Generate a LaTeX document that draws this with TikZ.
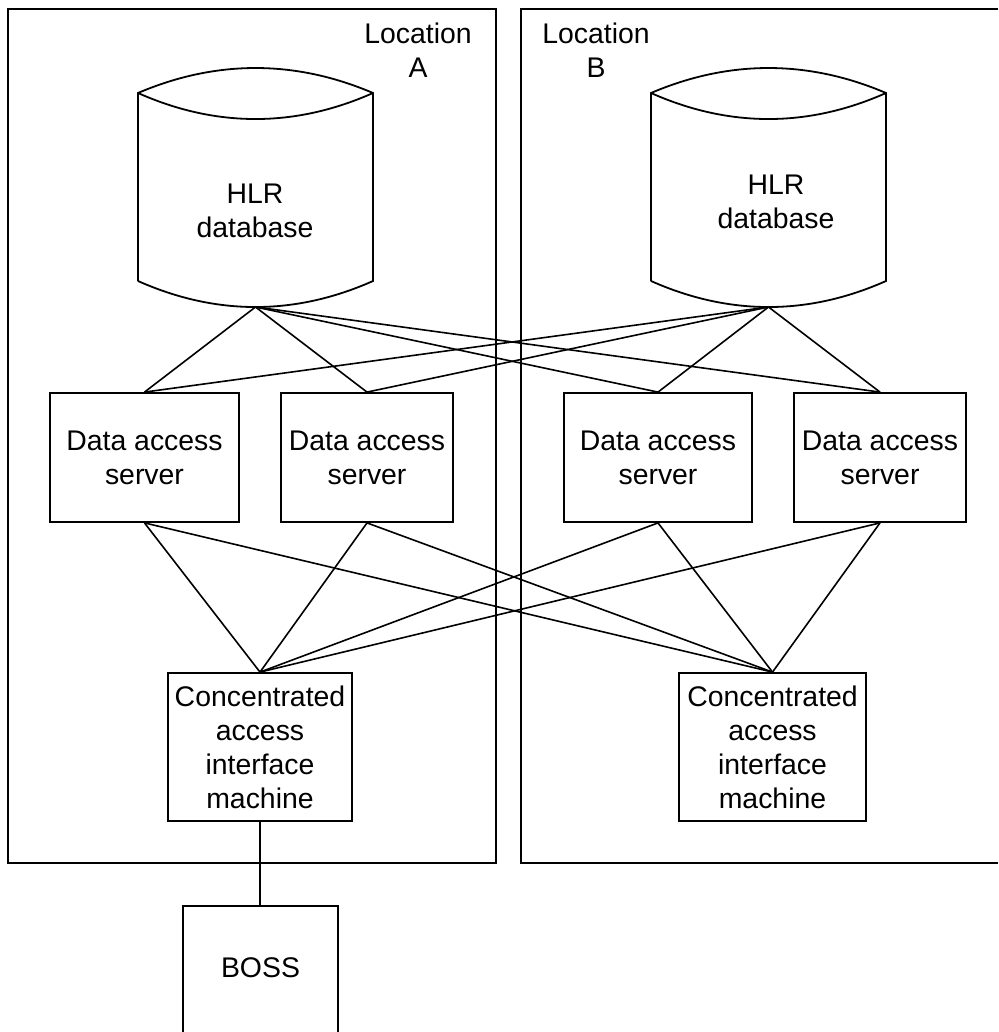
\documentclass[tikz,border=0pt]{standalone}
\usepackage{fontspec}
\setmainfont{Liberation Sans}
\begin{document}
\begin{tikzpicture}[x=1pt,y=-1pt,
  txt/.style={inner sep=0pt, align=center, font=\fontsize{28.4}{34}\selectfont},
  box/.style={txt, draw, line width=1.8pt},
  frame/.style={draw, line width=1.8pt},
  link/.style={draw, line width=1.6pt}]
\useasboundingbox (0,0) rectangle (998,1032);

% location frames
\node[frame, minimum width=488pt, minimum height=854pt, inner sep=0pt] (locA) at (252,436) {};
\draw[frame] (998,9) -- (521,9) -- (521,863) -- (998,863);
\node[txt] (locAlbl) at (418,50) {Location\\A};
\node[txt] (locBlbl) at (596,50) {Location\\B};

% databases
\draw[frame] (138,281) -- (138,93) .. controls (216,59.7) and (295,59.7) .. (373,93)
  -- (373,281) .. controls (295,315.7) and (216,315.7) .. (138,281);
\draw[frame] (138,93) .. controls (216,127.7) and (295,127.7) .. (373,93);
\draw[frame] (651,281) -- (651,93) .. controls (729,59.7) and (808,59.7) .. (886,93)
  -- (886,281) .. controls (808,315.7) and (729,315.7) .. (651,281);
\draw[frame] (651,93) .. controls (729,127.7) and (808,127.7) .. (886,93);
\node[txt] (dbA) at (255,211) {HLR\\database};
\node[txt] (dbB) at (776,201.5) {HLR\\database};
\coordinate (dbAbot) at (255.5,307);
\coordinate (dbBbot) at (768.5,307);

% data access servers
\node[box, minimum width=189pt, minimum height=129pt] (dasA1) at (144.5,457.5) {Data access\\server};
\node[box, minimum width=172pt, minimum height=129pt] (dasA2) at (367,457.5) {Data access\\server};
\node[box, minimum width=188pt, minimum height=129pt] (dasB1) at (658,457.5) {Data access\\server};
\node[box, minimum width=172pt, minimum height=129pt] (dasB2) at (880,457.5) {Data access\\server};

% concentrated access interface machines
\node[box, minimum width=184pt, minimum height=148pt] (caimA) at (260,747) {Concentrated\\access\\interface\\machine};
\node[box, minimum width=187pt, minimum height=148pt] (caimB) at (772.5,747) {Concentrated\\access\\interface\\machine};

% BOSS
\draw[frame] (183,1032) -- (183,906) -- (338,906) -- (338,1032);
\node[txt] (boss) at (260.5,968) {BOSS};
\coordinate (bossTop) at (260,906);

% connectors
\foreach \d in {dasA1,dasA2,dasB1,dasB2} {
  \draw[link] (dbAbot) -- (\d.north);
  \draw[link] (dbBbot) -- (\d.north);
  \draw[link] (\d.south) -- (caimA.north);
  \draw[link] (\d.south) -- (caimB.north);
}
\draw[link, line width=1.8pt] (caimA.south) -- (bossTop);
\end{tikzpicture}
\end{document}
